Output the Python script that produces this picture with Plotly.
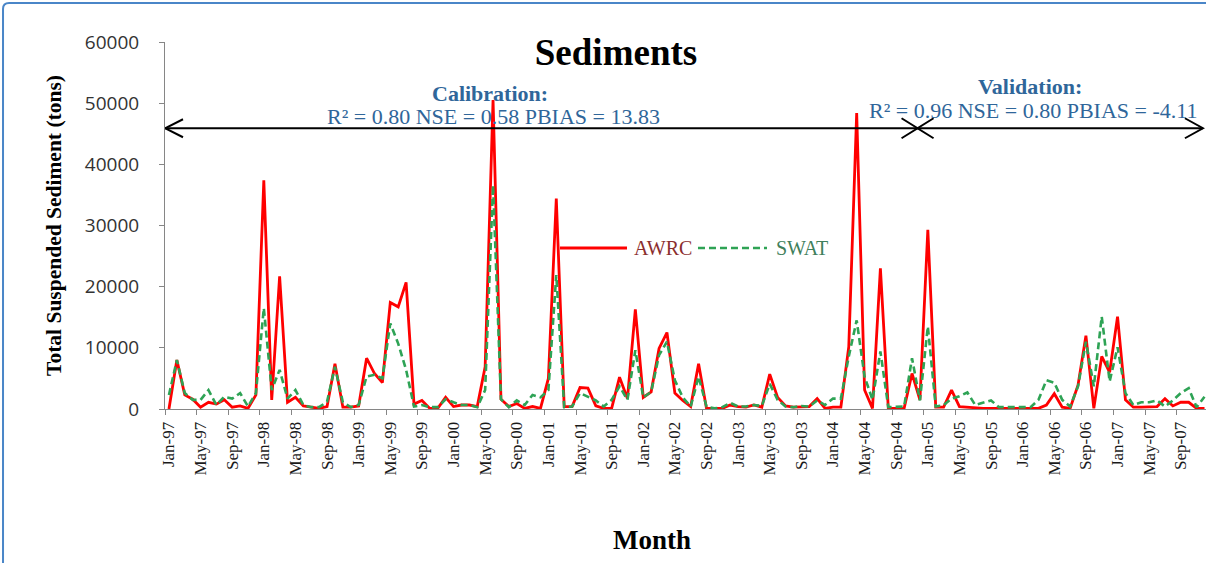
import pandas as pd
import plotly.graph_objects as go

# ---- data (monthly, Jan-1997 .. Dec-2007) ----
start_month = "1997-01-01"
n_months = 132
months = pd.date_range(start_month, periods=n_months, freq="MS")
month_labels = [d.strftime("%b-%y") for d in months]

awrc = [0, 8000, 2300, 1600, 300, 1100, 800, 1500, 300, 500, 100, 2300,
        37400, 1500, 21700, 1100, 1900, 500, 300, 100, 400, 7400, 300, 300,
        500, 8300, 5800, 4300, 17400, 16700, 20700, 800, 1400, 100, 100, 1900,
        400, 650, 650, 400, 6900, 50500, 1600, 400, 900, 100, 400, 100,
        5000, 34400, 400, 400, 3500, 3400, 500, 100, 100, 5200, 1700, 16300,
        1900, 2800, 9900, 12500, 2600, 1400, 400, 7400, 100, 100, 100, 650,
        400, 300, 650, 300, 5700, 1900, 500, 300, 400, 400, 1700, 100,
        300, 300, 10200, 48400, 3100, 100, 23000, 100, 100, 100, 5800, 1500,
        29300, 300, 300, 3100, 400, 300, 100, 100, 100, 100, 100, 50,
        100, 100, 100, 650, 2500, 300, 100, 3900, 12000, 100, 8600, 6000,
        15100, 1500, 300, 300, 400, 400, 1700, 500, 1100, 1100, 100, 100]

swat = [2300, 8000, 2600, 1500, 1500, 3100, 650, 2000, 1700, 2600, 400, 2600,
        16500, 3100, 6400, 1700, 3100, 650, 300, 300, 1200, 6900, 1100, 300,
        650, 5300, 5600, 5000, 14000, 10700, 6400, 400, 650, 300, 300, 1600,
        1100, 650, 650, 300, 3100, 36600, 1600, 300, 1400, 650, 2300, 1900,
        3100, 21900, 300, 400, 2600, 2000, 1400, 400, 1500, 3700, 1500, 9600,
        1900, 2800, 8800, 11000, 4700, 1900, 400, 5300, 400, 100, 300, 1000,
        400, 400, 650, 500, 4100, 1500, 400, 300, 500, 400, 1400, 650,
        1700, 1700, 8600, 14500, 5300, 1500, 9400, 300, 300, 400, 8300, 1400,
        13500, 400, 650, 1700, 2100, 2700, 650, 1000, 1400, 300, 300, 300,
        400, 300, 1500, 4700, 4300, 1500, 400, 3700, 11000, 3700, 15100, 4500,
        10100, 2600, 650, 1100, 1100, 1400, 400, 1400, 2600, 3400, 300, 2000]

tick_step = 4
calib_text = ["Calibration:", "R² = 0.80 NSE = 0.58 PBIAS = 13.83"]
valid_text = ["Validation:", "R² = 0.96 NSE = 0.80 PBIAS = -4.11"]

x_idx = list(range(n_months))

RED = "#ff0000"
GREEN = "#2ea355"
BLUE_TXT = "#2f669a"
SERIF = "Liberation Serif"

fig = go.Figure()
fig.add_trace(go.Scatter(x=x_idx, y=awrc, name="AWRC", mode="lines",
                         line=dict(color=RED, width=2.8),
                         text=month_labels, hovertemplate="%{text}: %{y}<extra>AWRC</extra>"))
fig.add_trace(go.Scatter(x=x_idx, y=swat, name="SWAT", mode="lines",
                         line=dict(color=GREEN, width=2.6, dash="7px,4px"),
                         text=month_labels, hovertemplate="%{text}: %{y}<extra>SWAT</extra>"))

# ---- arrows for calibration / validation periods ----
arrow_y = 45900
x_start = -0.5
x_split = 94.7
x_end = 130.8
shapes = []
line_style = dict(color="black", width=2)
shapes.append(dict(type="line", xref="x", yref="y", x0=x_start, x1=x_end,
                   y0=arrow_y, y1=arrow_y, line=line_style))
for anchor, path in [(x_start, "M18,9 L0,0 L18,-9"),
                     (x_split, "M-16,10 L0,0 L-16,-10"),
                     (x_split, "M16,10 L0,0 L16,-10"),
                     (x_end, "M-18,10 L0,0 L-18,-10")]:
    shapes.append(dict(type="path", xref="x", yref="y", xsizemode="pixel", ysizemode="pixel",
                       xanchor=anchor, yanchor=arrow_y, path=path, line=line_style))

# ---- manual legend line samples (paper coords) ----
leg_y = 0.4387
shapes.append(dict(type="line", xref="paper", yref="paper", x0=0.3794, x1=0.4438,
                   y0=leg_y, y1=leg_y, line=dict(color=RED, width=2.8)))
shapes.append(dict(type="line", xref="paper", yref="paper", x0=0.512, x1=0.5783,
                   y0=leg_y, y1=leg_y, line=dict(color=GREEN, width=2.6, dash="7px,4px")))

# ---- outer blue frame ----
fx0, fy1 = -0.1556, 1.1063
rx, ry = 0.0058, 0.0163
shapes.append(dict(type="path", xref="paper", yref="paper",
                   path=f"M{fx0},-0.5 L{fx0},{fy1-ry} Q{fx0},{fy1} {fx0+rx},{fy1} L1.05,{fy1}",
                   line=dict(color="#4a86c8", width=2)))

annotations = [
    dict(x=40.6, y=51660, xref="x", yref="y", text="<b>" + calib_text[0] + "</b>", showarrow=False,
         font=dict(family=SERIF, size=22, color=BLUE_TXT)),
    dict(x=41.0, y=47740, xref="x", yref="y", text=calib_text[1], showarrow=False,
         font=dict(family=SERIF, size=22, color=BLUE_TXT)),
    dict(x=108.9, y=52800, xref="x", yref="y", text="<b>" + valid_text[0] + "</b>", showarrow=False,
         font=dict(family=SERIF, size=22, color=BLUE_TXT)),
    dict(x=109.3, y=48880, xref="x", yref="y", text=valid_text[1], showarrow=False,
         font=dict(family=SERIF, size=22, color=BLUE_TXT)),
    dict(x=(632 - 165) / 1041, y=leg_y, xref="paper", yref="paper", xanchor="left", yanchor="middle",
         text="AWRC", showarrow=False, font=dict(family=SERIF, size=20, color="#8b2e2e")),
    dict(x=(774 - 165) / 1041, y=leg_y, xref="paper", yref="paper", xanchor="left", yanchor="middle",
         text="SWAT", showarrow=False, font=dict(family=SERIF, size=20, color="#3f7f5c")),
    dict(x=(652 - 165) / 1041, y=(409 - 540) / 367, xref="paper", yref="paper",
         xanchor="center", yanchor="middle", text="<b>Month</b>",
         showarrow=False, font=dict(family=SERIF, size=27, color="black")),
]

fig.update_layout(
    width=1206, height=563,
    margin=dict(l=165, r=0, t=42, b=154),
    paper_bgcolor="white", plot_bgcolor="white",
    showlegend=False,
    title=dict(text="<b>Sediments</b>", x=616/1206, xref="container", xanchor="center",
               y=1-52/563, yref="container", yanchor="middle",
               font=dict(family=SERIF, size=37, color="black")),
    shapes=shapes, annotations=annotations,
)

fig.update_xaxes(
    range=[-0.5, 131.19], showgrid=False, zeroline=False,
    showline=True, linecolor="#868686", linewidth=1,
    tickmode="array", tickvals=x_idx[::tick_step], ticktext=month_labels[::tick_step],
    tickangle=-90, ticks="outside", ticklen=5, tickcolor="rgba(0,0,0,0)",
    tickfont=dict(family=SERIF, size=17, color="#1a1a1a"),
    minor=dict(tick0=-0.5, dtick=tick_step, ticks="outside", ticklen=5,
               tickcolor="#868686", showgrid=False),
)
fig.update_yaxes(
    range=[0, 60000], dtick=10000, tickformat="d", showgrid=False, zeroline=False,
    showline=True, linecolor="#868686", linewidth=1,
    ticks="outside", ticklen=5, tickcolor="#868686", ticklabelstandoff=16,
    tickfont=dict(family="Open Sans", size=19, color="#333333"),
    title=dict(text="<b>Total Suspended Sediment (tons)</b>", standoff=17,
               font=dict(family=SERIF, size=21.5, color="black")),
)

fig.write_html("out.html", config={"displayModeBar": False},
               post_script="document.body.style.margin='0';")
